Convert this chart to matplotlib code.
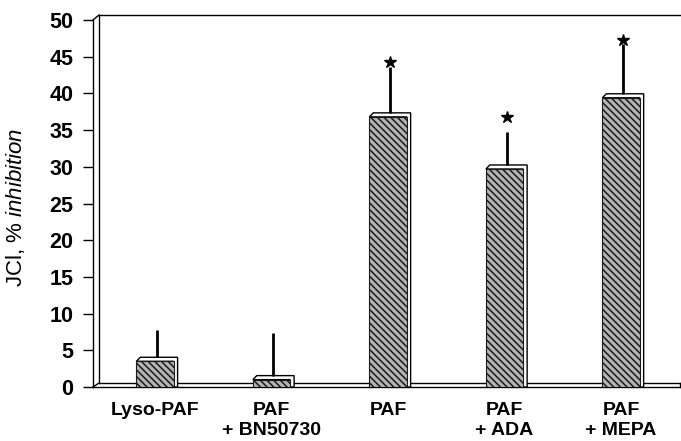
import numpy as np
import matplotlib
matplotlib.use("Agg")
import matplotlib.pyplot as plt
from matplotlib.patches import Polygon

plt.rcParams['font.family'] = ['Liberation Sans', 'DejaVu Sans']
plt.rcParams['mathtext.fontset'] = 'custom'
plt.rcParams['mathtext.rm'] = 'Liberation Sans'
plt.rcParams['mathtext.it'] = 'Liberation Sans:italic'
plt.rcParams['hatch.linewidth'] = 1.1

# data
groups = ['Lyso-PAF', 'PAF\n+ BN50730', 'PAF', 'PAF\n+ ADA', 'PAF\n+ MEPA']
inhibition = [3.5, 1.0, 36.8, 29.7, 39.4]
sem_upper = [3.7, 5.8, 6.2, 4.5, 6.8]
star_y = [None, None, 44.3, 36.8, 47.3]
yticks = [0, 5, 10, 15, 20, 25, 30, 35, 40, 45, 50]

W, H = 681, 441
fig = plt.figure(figsize=(W / 100, H / 100), dpi=100)
# axes box in pixels: left 93, right 680, top 20 (=50), bottom 387 (=0)
ax = fig.add_axes([93 / W, (H - 387) / H, 587 / W, 367 / H])

x = np.arange(len(groups))
w = 0.32
dx, dy = 0.034, 0.55   # fake 3D depth

ax.set_xlim(-0.532, 4.506)
ax.set_ylim(0, 50)

for xi, v in zip(x, inhibition):
    xl, xr = xi - w / 2, xi + w / 2
    face = Polygon([(xl, v), (xl + dx, v + dy), (xr + dx, v + dy),
                    (xr + dx, 0), (xr, 0), (xr, v)],
                   closed=True, facecolor='white', edgecolor='black',
                   lw=1.0, zorder=3, clip_on=False)
    ax.add_patch(face)

ax.bar(x, inhibition, width=w, color='#b4b4b4', edgecolor='#1a1a1a',
       hatch='\\' * 5, lw=0.8, zorder=4)

ax.errorbar(x + dx / 2, np.array(inhibition) + dy, yerr=[np.zeros(len(x)), sem_upper],
            fmt='none', ecolor='black', elinewidth=2.0, capsize=0, zorder=5)

for xi, s in zip(x, star_y):
    if s is not None:
        ax.plot(xi + dx / 2, s, marker='*', color='black', markersize=9,
                zorder=6, clip_on=False)

# 3D box frame
for sp in ['top', 'right']:
    ax.spines[sp].set_visible(False)
ax.spines['left'].set_linewidth(1.0)
ax.spines['bottom'].set_linewidth(1.0)
px = 1 / 587
py = 1 / 367
kw = dict(transform=ax.transAxes, color='black', lw=1.0, clip_on=False, zorder=2)
ax.plot([6 * px, 6 * px], [4 * py, 1 + 5 * py], **kw)
ax.plot([0, 6 * px], [1, 1 + 5 * py], **kw)
ax.plot([6 * px, 1], [1 + 5 * py, 1 + 5 * py], **kw)
ax.plot([0, 6 * px], [0, 4 * py], **kw)
ax.plot([6 * px, 1], [4 * py, 4 * py], **kw)
ax.plot([1, 1], [0, 4 * py], **kw)

ax.set_yticks(yticks)
ax.set_yticklabels([str(t) for t in yticks], fontsize=15.5, fontweight='bold')
ax.tick_params(axis='y', direction='out', length=7, width=1.0, pad=7)

ax.set_xticks(x)
ax.set_xticklabels(groups, fontsize=14, fontweight='bold')
ax.tick_params(axis='x', length=0, pad=11)

ax.set_ylabel(r'JCl, $\mathit{\%\ inhibition}$', fontsize=16)
ax.yaxis.set_label_coords(-0.112, 0.49)

fig.savefig('out.png', dpi=100)
